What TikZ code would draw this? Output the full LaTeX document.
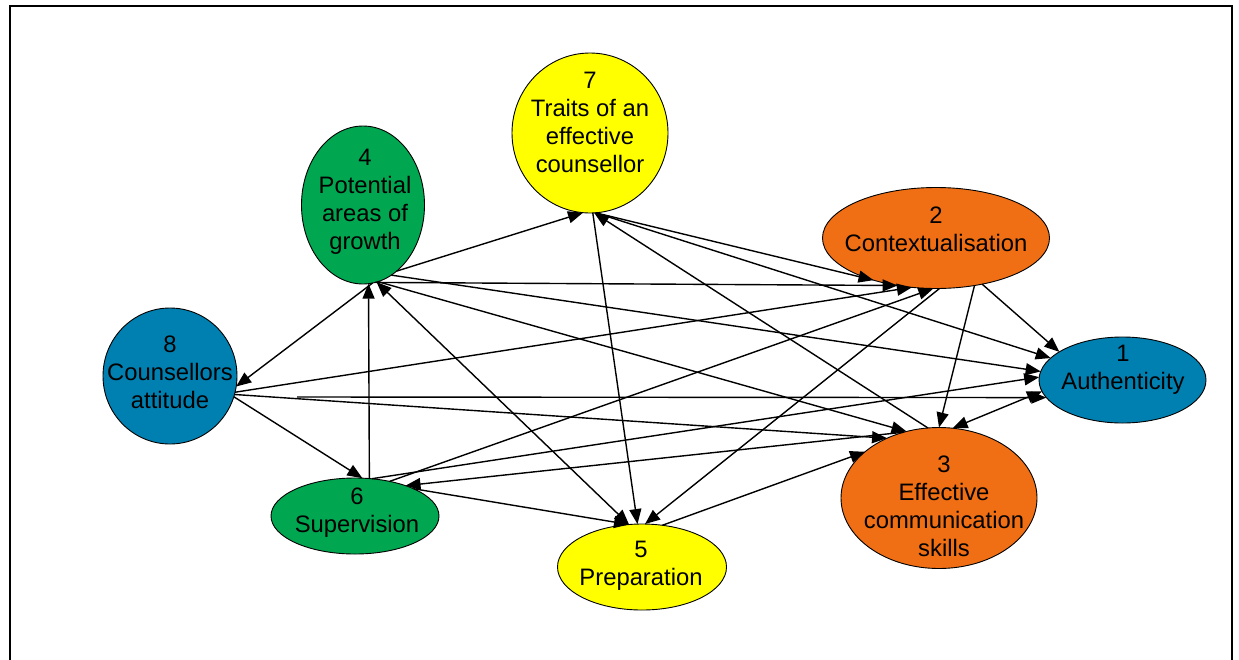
\documentclass[tikz,border=0pt]{standalone}
\usepackage{fontspec}
\setmainfont{Liberation Sans}
\usetikzlibrary{arrows.meta,shapes.geometric}
\definecolor{cOrange}{RGB}{240,110,20}
\definecolor{cBlue}{RGB}{0,128,176}
\definecolor{cGreen}{RGB}{0,166,80}
\definecolor{cYellow}{RGB}{255,255,0}
\begin{document}
\begin{tikzpicture}[x=1pt,y=-1pt,
  concept/.style={ellipse,draw=black,line width=0.9pt,inner sep=0pt,outer sep=0pt},
  caption/.style={align=center,inner sep=0pt,font=\fontsize{23.8}{28}\selectfont},
  link/.style={line width=1.4pt,-{Triangle[length=15pt,width=12pt]}},
  duallink/.style={line width=1.4pt,{Triangle[length=15pt,width=12pt]}-{Triangle[length=15pt,width=12pt]}}]
\useasboundingbox (0,0) rectangle (1239,659);
% open frame, its bottom edge lies below the page
\draw[line width=2pt] (10,680) -- (10,6) -- (1232,6) -- (1232,680);

% concepts
\node[concept,fill=cBlue,minimum width=167pt,minimum height=86pt] (n1) at (1122.5,380) {};
\node[concept,fill=cOrange,minimum width=227pt,minimum height=101pt] (n2) at (936,238) {};
\node[concept,fill=cOrange,minimum width=196pt,minimum height=141pt] (n3) at (939,498) {};
\node[concept,fill=cGreen,minimum width=123pt,minimum height=158pt] (n4) at (363,205) {};
\node[concept,fill=cYellow,minimum width=169pt,minimum height=86pt] (n5) at (642,567) {};
\node[concept,fill=cGreen,minimum width=168pt,minimum height=76pt] (n6) at (355,516) {};
\node[concept,fill=cYellow,minimum width=156pt,minimum height=160pt] (n7) at (590,133) {};
\node[concept,fill=cBlue,minimum width=134pt,minimum height=136pt] (n8) at (170,376) {};

\node[caption] (t1) at (1123,370) {1\\Authenticity};
\node[caption] (t2) at (936,229) {2\\Contextualisation};
\node[caption] (t3) at (944,506) {3\\Effective\\communication\\skills};
\node[caption] (t4) at (365,202) {4\\Potential\\areas of\\growth};
\node[caption] (t5) at (641,566) {5\\Preparation};
\node[caption] (t6) at (357,513) {6\\Supervision};
\node[caption] (t7) at (590,122) {7\\Traits of an\\effective\\counsellor};
\node[caption] (t8) at (170,372) {8\\Counsellors\\attitude};

% links
\draw[link] (n4.-63) -- (n7.-95);
\draw[link] (n4.-81.6) -- (n2.-129.4);
\draw[link] (n4.-68.7) -- (n1.174.8);
\draw[link] (n4.-79) -- (n3.116.9);
\draw[duallink] (n4.-80.3) -- (n5.107.6);
\draw[link] (n4.-83.7) -- (n8.-9.3);
\draw[link] (n6.69.8) -- (n4.-86);
\draw[link] (n8.-18.2) -- (n6.79.8);
\draw[link] (n8.-14) -- (n2.-116.2);
\coordinate (c81) at (297,397);
\draw[link] (c81) -- (n1.-167.7);
\draw[link] (n8.-16.1) -- (n3.131.8);
\draw[link] (n7.-88.6) -- (n5.96.2);
\draw[link] (n7.-86) -- (n2.-146.3);
\draw[link] (n7.-86) -- (n1.163.2);
\draw[link] (n3.99.7) -- (n7.-87.9);
\draw[link] (n2.-45) -- (n1.156.1);
\draw[link] (n2.-51.1) -- (n3.90.8);
\draw[link] (n2.-86) -- (n5.86.5);
\draw[link] (n6.66.4) -- (n1.178.7);
\draw[link] (n6.45.8) -- (n2.-93.9);
\draw[link] (n3.118) -- (n6.31.6);
\draw[duallink] (n1.-172) -- (n3.79);
\draw[link] (n5.64.5) -- (n3.148.7);
\draw[link] (n6.25.5) -- (n5.107.6);
\end{tikzpicture}
\end{document}
